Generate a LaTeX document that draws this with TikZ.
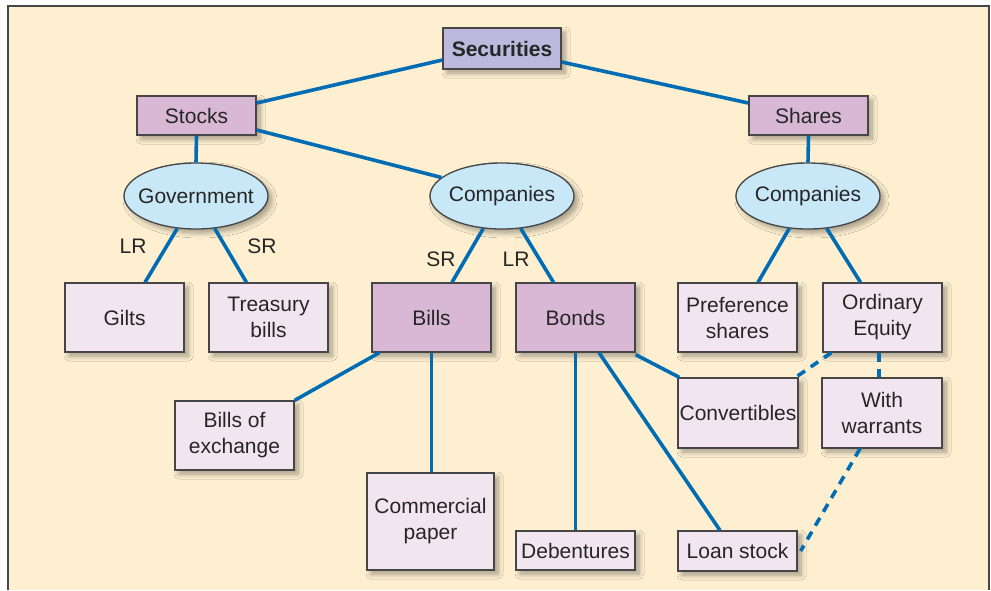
\documentclass[tikz,border=0pt]{standalone}
\usepackage{fontspec}
\setmainfont{Liberation Sans}
\usetikzlibrary{shapes.geometric,shadows.blur,calc}
\definecolor{bgcream}{RGB}{253,239,208}
\definecolor{framegray}{RGB}{70,70,70}
\definecolor{linkblue}{RGB}{0,108,180}
\definecolor{topfill}{RGB}{189,185,220}
\definecolor{midfill}{RGB}{217,184,214}
\definecolor{leaffill}{RGB}{241,229,240}
\definecolor{ovalfill}{RGB}{200,232,248}
\tikzset{
  shade/.style={blur shadow={shadow xshift=4pt,shadow yshift=-4pt,shadow blur steps=8,shadow blur radius=5pt,shadow opacity=35}},
  basebox/.style={draw=framegray,line width=1.3pt,inner sep=0pt,align=center,font=\fontsize{21}{26}\selectfont,text=black!85,shade},
  topbox/.style={basebox,fill=topfill,font=\fontsize{21}{26}\selectfont\bfseries},
  midbox/.style={basebox,fill=midfill},
  leafbox/.style={basebox,fill=leaffill},
  oval/.style={basebox,ellipse,fill=ovalfill,minimum width=144pt,minimum height=66pt},
  link/.style={draw=linkblue,line width=3.6pt},
  dlink/.style={link,dash pattern=on 9pt off 7pt},
  tag/.style={font=\fontsize{21}{24}\selectfont,text=black!85,inner sep=0pt}
}
% text of fixed-size ovals: zero-width box so the oval keeps its size
\newcommand{\ovaltext}[1]{\makebox[0pt]{#1}}
\begin{document}
\begin{tikzpicture}[x=1pt,y=-1pt]
\useasboundingbox (0,0) rectangle (991,590);
\fill[white] (0,0) rectangle (991,590);
\fill[bgcream] (8,6) rectangle (989,590);
\draw[framegray,line width=1.5pt] (8,590) -- (8,6) -- (989,6) -- (989,590);

% boxes: centre, width, height
\node[topbox,minimum width=118pt,minimum height=41pt] (sec) at (502,48.5) {Securities};
\node[midbox,minimum width=119pt,minimum height=39pt] (stocks) at (196.5,115.5) {Stocks};
\node[midbox,minimum width=119pt,minimum height=39pt] (shares) at (808.5,115.5) {Shares};

\node[oval] (gov) at (196,196) {\ovaltext{Government}};
\node[oval] (comp) at (502,196) {\ovaltext{Companies}};
\node[oval] (comps) at (808,196) {\ovaltext{Companies}};

\node[leafbox,minimum width=119pt,minimum height=69pt] (gilts) at (124.5,317.5) {Gilts};
\node[leafbox,minimum width=119pt,minimum height=69pt] (tbills) at (268.5,317.5) {Treasury\\bills};
\node[midbox,minimum width=119pt,minimum height=69pt] (bills) at (431.5,317.5) {Bills};
\node[midbox,minimum width=119pt,minimum height=69pt] (bonds) at (575.5,317.5) {Bonds};
\node[leafbox,minimum width=119pt,minimum height=69pt] (pref) at (737.5,317.5) {Preference\\shares};
\node[leafbox,minimum width=119pt,minimum height=69pt] (ord) at (882.5,317.5) {Ordinary\\Equity};

\node[leafbox,minimum width=119pt,minimum height=69pt] (boe) at (234.5,435.5) {Bills of\\exchange};
\node[leafbox,minimum width=120pt,minimum height=70pt] (conv) at (738,413) {Convertibles};
\node[leafbox,minimum width=120pt,minimum height=70pt] (ww) at (882,413) {With\\warrants};
\node[leafbox,minimum width=127pt,minimum height=97pt] (cp) at (430.5,521.5) {Commercial\\paper};
\node[leafbox,minimum width=119pt,minimum height=39pt] (deb) at (575.5,550.5) {Debentures};
\node[leafbox,minimum width=119pt,minimum height=40pt] (loan) at (737.5,551) {Loan stock};

% connectors
\draw[link] ([yshift=-11.5pt]sec.west) -- ([yshift=12.5pt]stocks.east);
\draw[link] ([yshift=-13.5pt]sec.east) -- ([yshift=12.5pt]shares.west);
\draw[link] (stocks.south) -- (gov.north);
\draw[link] ([yshift=-14.5pt]stocks.east) -- (comp.163);
\draw[link] (shares.south) -- (comps.north);

\draw[link] (gov.240) -- ([xshift=20.5pt]gilts.north);
\draw[link] (gov.300) -- ([xshift=-22pt]tbills.north);
\draw[link] (comp.240) -- ([xshift=20.5pt]bills.north);
\draw[link] (comp.300) -- ([xshift=-22pt]bonds.north);
\draw[link] (comps.240) -- ([xshift=20.5pt]pref.north);
\draw[link] (comps.300) -- ([xshift=-22pt]ord.north);

\draw[link] ([xshift=8pt]bills.south west) -- (boe.north east);
\draw[link] (bills.south) -- (bills.south |- cp.north);
\draw[link] (bonds.south) -- (bonds.south |- deb.north);
\draw[link] ([xshift=23.5pt]bonds.south) -- ([xshift=-17.5pt]loan.north);
\draw[link] ([yshift=-2pt]bonds.south east) -- ([xshift=2pt]conv.north west);

\draw[dlink] ([xshift=9pt]ord.south west) -- ([xshift=-3pt]conv.north east);
\draw[dlink] ([xshift=-3.5pt]ord.south) -- ([xshift=-3pt]ww.north);
\draw[dlink] ([xshift=-22pt]ww.south) -- ([xshift=3pt]loan.east);

% branch labels
\node[tag] (lr1) at (133,246) {LR};
\node[tag] (sr1) at (262,246) {SR};
\node[tag] (sr2) at (441,259) {SR};
\node[tag] (lr2) at (516,259) {LR};
\end{tikzpicture}
\end{document}
